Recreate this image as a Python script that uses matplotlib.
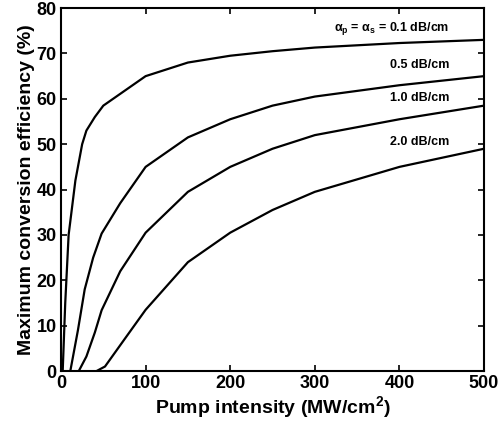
import matplotlib
matplotlib.use("Agg")
import matplotlib.pyplot as plt

# pump intensity (MW/cm^2) and efficiency (%)
x_01 = [2, 5, 9, 17, 25, 30, 40, 50, 100, 150, 200, 250, 300, 400, 500]
y_01 = [0, 15, 30, 42, 50, 53, 56, 58.5, 65, 68, 69.5, 70.5, 71.3, 72.3, 73]

x_05 = [11, 20, 28, 38, 48, 70, 100, 150, 200, 250, 300, 400, 500]
y_05 = [0, 9, 18, 25, 30.3, 37, 45, 51.5, 55.5, 58.5, 60.5, 63, 65]

x_10 = [21, 30, 40, 48, 70, 100, 150, 200, 250, 300, 400, 500]
y_10 = [0, 3.2, 8.5, 13.4, 22, 30.5, 39.5, 45, 49, 52, 55.5, 58.5]

x_20 = [42, 52, 75, 100, 150, 200, 250, 300, 400, 500]
y_20 = [0, 1, 7, 13.5, 24, 30.5, 35.5, 39.5, 45, 49]

labels = [r"$\alpha_p$ = $\alpha_s$ = 0.1 dB/cm", "0.5 dB/cm", "1.0 dB/cm", "2.0 dB/cm"]
label_y = [73.6, 66.1, 58.8, 49.2]

plt.rcParams["font.family"] = ["Liberation Sans", "DejaVu Sans"]
plt.rcParams["font.weight"] = "bold"
plt.rcParams["mathtext.default"] = "regular"

fig = plt.figure(figsize=(4.98, 4.26), dpi=100)
ax = fig.add_axes([0.1225, 0.129, 0.8495, 0.852])

for xs, ys in [(x_01, y_01), (x_05, y_05), (x_10, y_10), (x_20, y_20)]:
    ax.plot(xs, ys, color="black", lw=1.6)

for lab, ly in zip(labels, label_y):
    ax.text(459, ly, lab, ha="right", va="bottom", fontsize=9, fontweight="bold")

ax.set_xlim(0, 500)
ax.set_ylim(0, 80)
ax.set_xticks(range(0, 501, 100))
ax.set_yticks(range(0, 81, 10))
ax.tick_params(direction="in", top=True, right=True, length=4, width=1.2,
               labelsize=13)
ax.tick_params(axis="x", pad=3)
ax.tick_params(axis="y", pad=3)
for sp in ax.spines.values():
    sp.set_linewidth(1.5)
ax.set_xlabel("Pump intensity (MW/cm$^2$)", fontsize=14, fontweight="bold", labelpad=1)
ax.set_ylabel("Maximum conversion efficiency (%)", fontsize=14, fontweight="bold", labelpad=1)

fig.savefig("out.png", dpi=100)
